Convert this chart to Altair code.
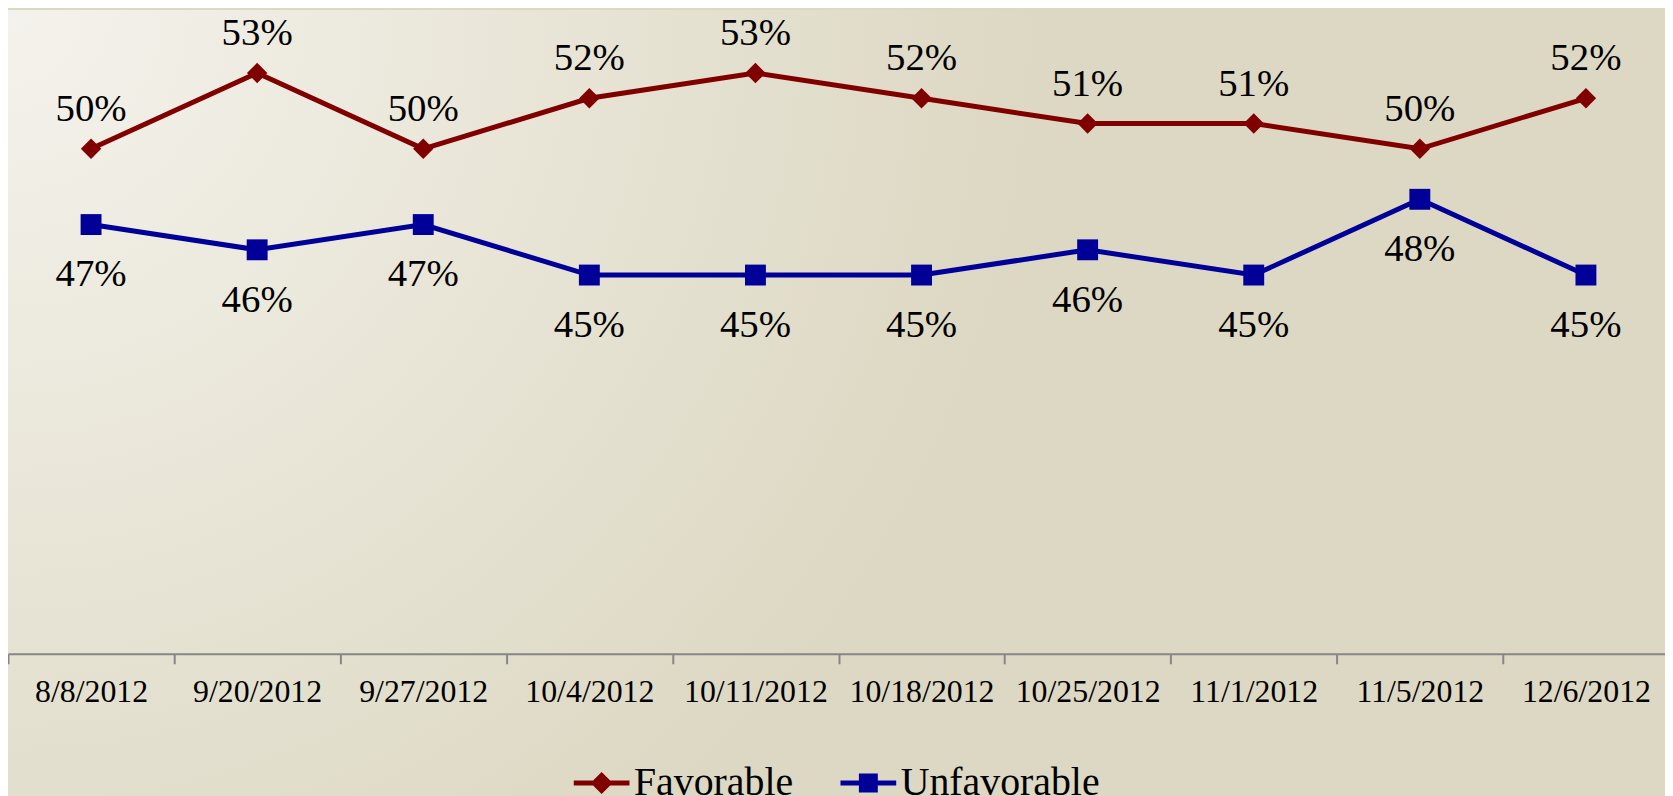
import altair as alt
import pandas as pd

dates = ["8/8/2012", "9/20/2012", "9/27/2012", "10/4/2012", "10/11/2012",
         "10/18/2012", "10/25/2012", "11/1/2012", "11/5/2012", "12/6/2012"]
favorable = [50, 53, 50, 52, 53, 52, 51, 51, 50, 52]
unfavorable = [47, 46, 47, 45, 45, 45, 46, 45, 48, 45]
series = ["Favorable", "Unfavorable"]
colors = ["#800000", "#000099"]

rows = []
for d, f, u in zip(dates, favorable, unfavorable):
    rows.append({"date": d, "series": "Favorable", "value": f, "label": f"{f}%"})
    rows.append({"date": d, "series": "Unfavorable", "value": u, "label": f"{u}%"})
df = pd.DataFrame(rows)

W, H = 1669, 647
FONT = "Liberation Serif"

x = alt.X("date:N", sort=dates, title=None,
          scale=alt.Scale(paddingInner=0, paddingOuter=0),
          axis=alt.Axis(labelAngle=0, tickBand="extent", domainColor="#868686",
                        domainWidth=2, tickColor="#868686", tickWidth=2, tickSize=10,
                        labelFont=FONT, labelFontSize=32, labelColor="black",
                        labelPadding=13, grid=False, zindex=2))
y = alt.Y("value:Q", scale=alt.Scale(domain=[30, 55.5], nice=False, zero=False),
          axis=None)

color = alt.Color("series:N", title=None, scale=alt.Scale(domain=series, range=colors))

bg = alt.Chart(pd.DataFrame({"a": [0]})).mark_rect(
    fill=alt.Gradient(gradient="radial", x1=0, y1=0, r1=0, x2=0, y2=0, r2=0.62,
                      stops=[alt.GradientStop(offset=0, color="#f4f2ec"),
                             alt.GradientStop(offset=0.45, color="#eae7da"),
                             alt.GradientStop(offset=1, color="#ddd8c3")])
).encode(x=alt.value(0), x2=alt.value(W), y=alt.value(0), y2=alt.value(W))

fav_path = "M-1,0L1,0M0,-0.27L0.27,0L0,0.27L-0.27,0Z"
unf_path = "M-1,0L1,0M-0.25,-0.25L0.25,-0.25L0.25,0.25L-0.25,0.25Z"

lines = alt.Chart(df).mark_line(strokeWidth=5).encode(x=x, y=y, color=color)

fav_pts = alt.Chart(df).transform_filter(alt.datum.series == "Favorable").mark_point(
    filled=True, opacity=1, shape="diamond", size=420
).encode(x=x, y=y, color=color)

unf_pts = alt.Chart(df).transform_filter(alt.datum.series == "Unfavorable").mark_point(
    filled=True, opacity=1, shape="square", size=441
).encode(x=x, y=y, color=color)

legend_layer = alt.Chart(df).transform_filter("false").mark_point(filled=True, opacity=1).encode(
    x=x, y=y, color=color,
    stroke=alt.Stroke("series:N", title=None, scale=alt.Scale(domain=series, range=colors)),
    shape=alt.Shape("series:N", title=None, scale=alt.Scale(domain=series, range=[fav_path, unf_path])),
)

fav_text = alt.Chart(df).transform_filter(alt.datum.series == "Favorable").mark_text(
    font=FONT, fontSize=39, color="black", baseline="middle", dy=-40
).encode(x=x, y=y, text="label:N")

unf_text = alt.Chart(df).transform_filter(alt.datum.series == "Unfavorable").mark_text(
    font=FONT, fontSize=39, color="black", baseline="middle", dy=50
).encode(x=x, y=y, text="label:N")

chart = alt.layer(bg, lines, fav_pts, unf_pts, legend_layer, fav_text, unf_text).properties(
    width=W, height=H,
    autosize=alt.AutoSizeParams(type="none"),
    padding={"left": 0, "top": 0, "right": -4, "bottom": 153},
    background="#ddd8c3",
).configure_view(stroke=None).configure_legend(
    orient="none", direction="horizontal", legendX=566, legendY=746,
    columnPadding=37, labelFont=FONT, labelFontSize=40, labelColor="black",
    labelOffset=2, labelLimit=500, symbolSize=3136, symbolStrokeWidth=5, symbolOpacity=1,
)

chart.save("out.html", embed_options={"renderer": "svg", "actions": False})
